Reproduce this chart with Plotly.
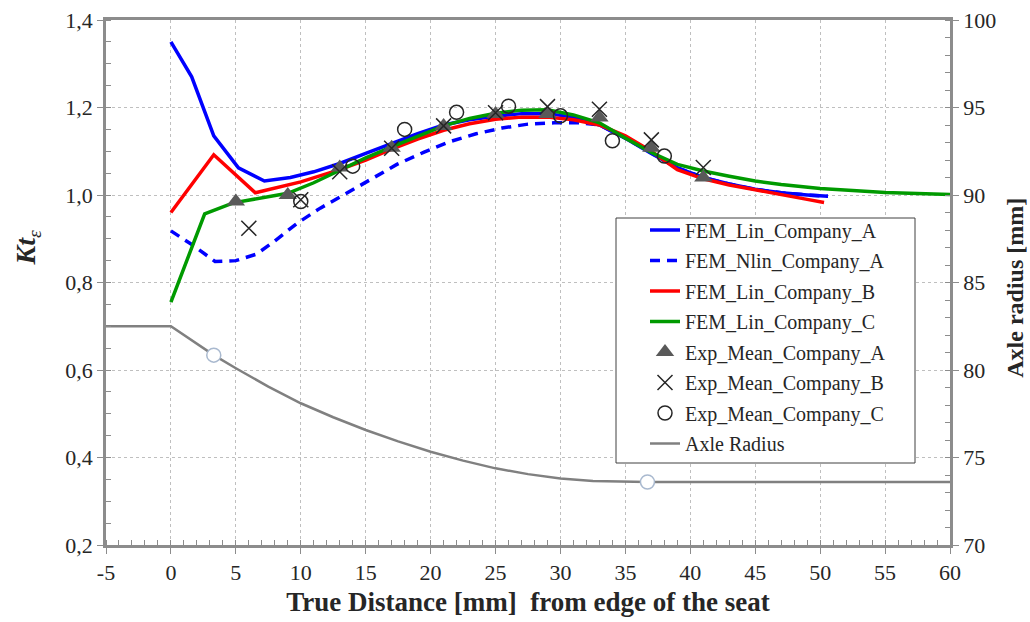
import plotly.graph_objects as go

# ---- data ----
x_lin_a = [0, 1.6, 3.3, 5.2, 7.2, 9.2, 11, 13, 15, 17, 19, 21, 23, 25, 27, 29, 31, 33, 35, 37, 39, 41, 43, 45, 47, 49, 50.6]
y_lin_a = [1.35, 1.27, 1.135, 1.062, 1.032, 1.04, 1.053, 1.072, 1.095, 1.118, 1.14, 1.16, 1.172, 1.18, 1.186, 1.186, 1.178, 1.16, 1.13, 1.095, 1.062, 1.04, 1.025, 1.013, 1.005, 1.0, 0.997]

x_nlin_a = [0, 1.7, 3.4, 5, 6.6, 8, 9.7, 11.5, 13.3, 15.3, 17.4, 19.5, 21.5, 23.5, 25.5, 27.5, 29.5, 31.5, 33, 35, 37, 39, 41, 43, 45, 47, 49, 50.6]
y_nlin_a = [0.918, 0.885, 0.848, 0.85, 0.865, 0.895, 0.935, 0.97, 1.0, 1.035, 1.07, 1.098, 1.122, 1.14, 1.153, 1.162, 1.165, 1.165, 1.16, 1.13, 1.095, 1.062, 1.04, 1.025, 1.013, 1.005, 1.0, 0.997]

x_lin_b = [0, 3.3, 6.5, 8, 10, 13, 15, 17, 19, 21, 23, 25, 27, 29, 31, 33, 35, 37, 39, 41, 43, 45, 47, 49, 50.3]
y_lin_b = [0.96, 1.092, 1.005, 1.015, 1.03, 1.058, 1.08, 1.105, 1.128, 1.148, 1.163, 1.173, 1.178, 1.178, 1.172, 1.16, 1.135, 1.1, 1.058, 1.037, 1.023, 1.012, 1.0, 0.99, 0.983]

x_lin_c = [0, 2.6, 4.8, 7, 9, 11, 13, 15, 17, 19, 21, 23, 25, 27, 29, 31, 33, 35, 37, 39, 41, 43, 45, 47, 50, 55, 60]
y_lin_c = [0.755, 0.957, 0.982, 0.993, 1.004, 1.028, 1.057, 1.085, 1.11, 1.135, 1.158, 1.175, 1.187, 1.194, 1.195, 1.183, 1.165, 1.13, 1.097, 1.07, 1.055, 1.043, 1.032, 1.024, 1.015, 1.006, 1.001]

x_exp_a = [5, 9, 13, 17, 21, 25, 29, 33, 37, 41]
y_exp_a = [0.985, 1.0, 1.063, 1.108, 1.158, 1.185, 1.185, 1.177, 1.108, 1.04]

x_exp_b = [6, 10, 13, 17, 21, 25, 29, 33, 37, 41]
y_exp_b = [0.924, 0.989, 1.053, 1.107, 1.158, 1.188, 1.202, 1.196, 1.126, 1.063]

x_exp_c = [10, 14, 18, 22, 26, 30, 34, 38]
y_exp_c = [0.985, 1.066, 1.15, 1.189, 1.203, 1.181, 1.124, 1.089]

x_axle = [-5, 0, 3.3, 5, 7.5, 10, 12.5, 15, 17.5, 20, 22.5, 25, 27.5, 30, 32.5, 35, 36.7, 60]
r_axle = [82.5, 82.5, 80.85, 80.1, 79.05, 78.1, 77.3, 76.57, 75.92, 75.33, 74.82, 74.38, 74.05, 73.8, 73.66, 73.6, 73.6, 73.6]

x_axle_pts = [3.3, 36.7]
r_axle_pts = [80.85, 73.6]

x_tickvals = [-5, 0, 5, 10, 15, 20, 25, 30, 35, 40, 45, 50, 55, 60]
x_ticktext = ["-5", "0", "5", "10", "15", "20", "25", "30", "35", "40", "45", "50", "55", "60"]

FONT = "Liberation Serif, Times New Roman, serif"
AXC = "#8c8c8c"
GRID = "#bfbfbf"

fig = go.Figure()
fig.add_trace(go.Scatter(x=x_lin_a, y=y_lin_a, mode="lines", name="FEM_Lin_Company_A", legendgroup="g1",
                         line=dict(color="#0000ff", width=3.5)))
fig.add_trace(go.Scatter(x=x_nlin_a, y=y_nlin_a, mode="lines", name="FEM_Nlin_Company_A", legendgroup="g2",
                         line=dict(color="#0000ff", width=3.5, dash="10px,7px")))
fig.add_trace(go.Scatter(x=x_lin_b, y=y_lin_b, mode="lines", name="FEM_Lin_Company_B", legendgroup="g3",
                         line=dict(color="#ff0000", width=3.5)))
fig.add_trace(go.Scatter(x=x_lin_c, y=y_lin_c, mode="lines", name="FEM_Lin_Company_C", legendgroup="g4",
                         line=dict(color="#009a00", width=3.5)))
fig.add_trace(go.Scatter(x=x_exp_a, y=y_exp_a, mode="markers", name="Exp_Mean_Company_A", legendgroup="g5",
                         marker=dict(symbol="triangle-up", size=16, color="#595959")))
fig.add_trace(go.Scatter(x=x_exp_b, y=y_exp_b, mode="markers", name="Exp_Mean_Company_B", legendgroup="g6",
                         marker=dict(symbol="x-thin-open", size=15, color="#262626",
                                     line=dict(color="#262626", width=1.5))))
fig.add_trace(go.Scatter(x=x_exp_c, y=y_exp_c, mode="markers", name="Exp_Mean_Company_C", legendgroup="g7",
                         marker=dict(symbol="circle-open", size=14, color="#262626",
                                     line=dict(color="#262626", width=1.5))))
fig.add_trace(go.Scatter(x=x_axle, y=r_axle, mode="lines", name="Axle Radius", yaxis="y2", legendgroup="g8",
                         line=dict(color="#808080", width=2.5)))
fig.add_trace(go.Scatter(x=x_axle_pts, y=r_axle_pts, mode="markers", yaxis="y2", showlegend=False,
                         marker=dict(symbol="circle", size=14, color="white",
                                     line=dict(color="#a9b9cf", width=1.5))))

tickfont = dict(family=FONT, size=22, color="#262626")

# legend frame in paper coordinates (plot area spans 106..950 x 20..545 px)
lx0, lx1 = (616 - 106) / 844, (915 - 106) / 844
ly1, ly0 = (545 - 218) / 525, (545 - 463) / 525

fig.update_layout(
    width=1030, height=622,
    paper_bgcolor="white", plot_bgcolor="white",
    margin=dict(l=106, r=80, t=20, b=77, autoexpand=False),
    separators=", ",
    font=dict(family=FONT, color="#262626"),
    showlegend=True,
    legend=dict(x=(645 - 106) / 844, y=(545 - 210.5) / 525, xanchor="left", yanchor="top",
                bgcolor="rgba(255,255,255,0)", borderwidth=0,
                font=dict(family=FONT, size=20, color="#262626"),
                tracegroupgap=1.5),
    shapes=[dict(type="rect", xref="paper", yref="paper", x0=lx0, x1=lx1, y0=ly0, y1=ly1,
                 fillcolor="white", line=dict(color="#404040", width=1), layer="above")],
    xaxis=dict(range=[-5, 60], tickmode="array", tickvals=x_tickvals, ticktext=x_ticktext,
               showline=True, linecolor=AXC, linewidth=2.5, automargin=False,
               mirror=True, ticks="outside", ticklen=6, tickcolor=AXC, tickwidth=1,
               showgrid=True, gridcolor=GRID, griddash="3px,3px", gridwidth=1, zeroline=False,
               tickfont=tickfont,
               minor=dict(ticks="inside", tick0=0, dtick=1, ticklen=5, tickcolor=AXC, showgrid=False),
               title=dict(text="<b>True Distance [mm]  from edge of the seat</b>",
                          font=dict(family=FONT, size=27, color="#262626"), standoff=8)),
    yaxis=dict(range=[0.2, 1.4], tick0=0.2, dtick=0.2, tickformat=".1f", showline=True,
               linecolor=AXC, linewidth=2.5, ticks="outside", ticklen=6, tickcolor=AXC,
               automargin=False,
               showgrid=True, gridcolor=GRID, griddash="3px,3px", gridwidth=1, zeroline=False,
               tickfont=tickfont,
               minor=dict(ticks="inside", dtick=0.05, ticklen=5, tickcolor=AXC, showgrid=False)),
    yaxis2=dict(range=[70, 100], tick0=70, dtick=5, overlaying="y", side="right", showline=True,
                linecolor=AXC, linewidth=2.5, ticks="outside", ticklen=6, tickcolor=AXC,
                automargin=False,
                showgrid=False, zeroline=False, tickfont=tickfont,
                minor=dict(ticks="inside", dtick=1, ticklen=5, tickcolor=AXC, showgrid=False)),
    annotations=[
        dict(text="<b><i>Kt</i></b><sub><i>ε</i></sub>", xref="paper", yref="paper",
             x=-0.0936, y=0.565, textangle=-90, showarrow=False,
             font=dict(family=FONT, size=28, color="#262626"), xanchor="center", yanchor="middle"),
        dict(text="<b>Axle radius [mm]</b>", xref="paper", yref="paper",
             x=1.077, y=0.49, textangle=-90, showarrow=False,
             font=dict(family=FONT, size=24, color="#262626"), xanchor="center", yanchor="middle"),
    ],
)

fig.write_html("out.html")
